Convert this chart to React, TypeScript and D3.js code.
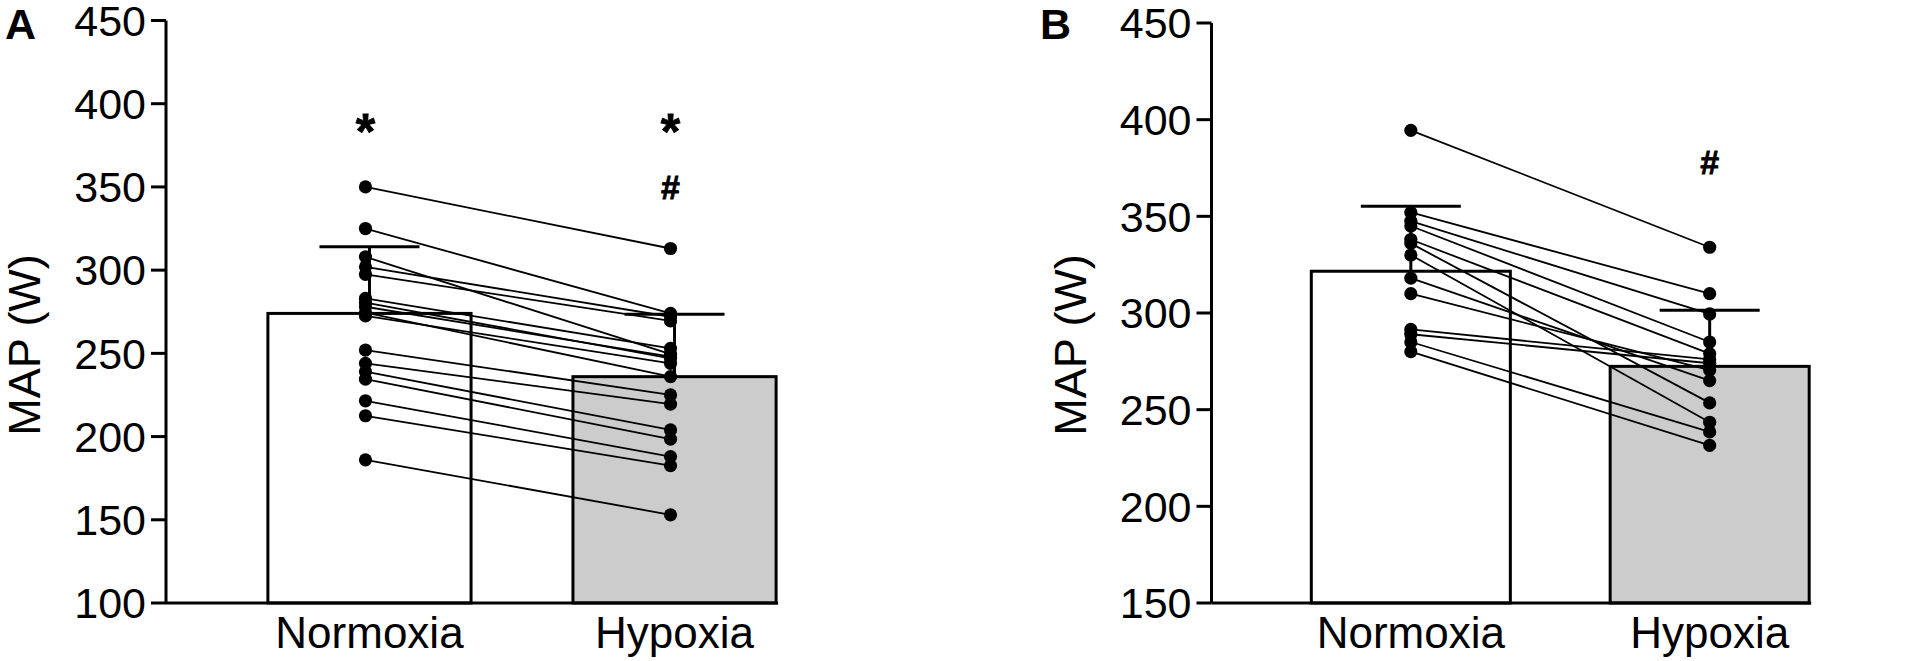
import React from "react";
import * as d3 from "d3";

// ---- data ----
const categories = ["Normoxia", "Hypoxia"];

const ticksA = [100, 150, 200, 250, 300, 350, 400, 450];
const ticksB = [150, 200, 250, 300, 350, 400, 450];

// panel A: paired subjects (normoxia -> hypoxia)
const normoxiaA = [350, 325, 308, 302, 297.5, 283, 280.5, 278, 274.5, 272.5, 252, 244, 239, 234.5, 221.5, 212.5, 186];
const hypoxiaA = [313, 274, 249.5, 272, 269.5, 253, 247, 248, 236, 244, 225, 219.5, 204, 198.5, 188, 182.5, 153];
const meanA = [274, 236];
const sdA = [40, 37.5];

// panel B
const normoxiaB = [394.5, 352, 347.5, 345, 338, 336, 330, 318, 310, 291.5, 289, 285, 280];
const hypoxiaB = [334, 310, 299.5, 285, 279, 253.5, 243.5, 265, 270.5, 276, 274, 238.5, 231.5];
const meanB = [321.6, 272.4];
const sdB = [33.6, 29];

const FONT = "'Liberation Sans', Arial, Helvetica, sans-serif";

interface PanelProps {
  letter: string;
  ticks: number[];
  domain: [number, number];
  yRange: [number, number];
  axisX: number;
  bandEnd: number;
  before: number[];
  after: number[];
  means: number[];
  sds: number[];
  dotShift: number;
  marks: { cat: number; text: string; value: number; size: number }[];
  letterX: number;
}

function Panel(p: PanelProps) {
  const y = d3.scaleLinear().domain(p.domain).range(p.yRange);
  const x = d3
    .scaleBand<string>()
    .domain(categories)
    .range([p.axisX, p.bandEnd])
    .paddingInner(0.334)
    .paddingOuter(0.334);
  const bw = x.bandwidth();
  const cx = (c: string) => (x(c) ?? 0) + bw / 2;
  const dx = (c: string) => cx(c) + p.dotShift;
  const y0 = p.yRange[0];
  const lastRight = (x(categories[1]) ?? 0) + bw;

  const pairs = p.before.map((b, i) => [b, p.after[i]]);
  const line = d3
    .line<[number, number]>()
    .x((d) => d[0])
    .y((d) => d[1]);

  return (
    <g>
      <text x={p.letterX} y={39} fontFamily={FONT} fontWeight="bold" fontSize={43}>
        {p.letter}
      </text>

      {/* y axis */}
      <line x1={p.axisX} x2={p.axisX} y1={y(p.domain[1])} y2={y0} stroke="#000" strokeWidth={3} />
      {p.ticks.map((t) => (
        <g key={t}>
          <line x1={p.axisX - 15} x2={p.axisX} y1={y(t)} y2={y(t)} stroke="#000" strokeWidth={3} />
          <text
            x={p.axisX - 20}
            y={y(t)}
            dy="0.355em"
            textAnchor="end"
            fontFamily={FONT}
            fontSize={43}
          >
            {t}
          </text>
        </g>
      ))}
      <text
        transform={`translate(${p.axisX - 126},345) rotate(-90)`}
        textAnchor="middle"
        fontFamily={FONT}
        fontSize={45}
      >
        MAP (W)
      </text>

      {/* bars */}
      {categories.map((c, i) => (
        <rect
          key={c}
          x={x(c)}
          y={y(p.means[i])}
          width={bw}
          height={y0 - y(p.means[i])}
          fill={i === 0 ? "#ffffff" : "#cccccc"}
          stroke="#000"
          strokeWidth={3}
        />
      ))}

      {/* x axis */}
      <line x1={p.axisX} x2={lastRight + 2} y1={y0} y2={y0} stroke="#000" strokeWidth={3} />

      {/* error bars (upper only) */}
      {categories.map((c, i) => (
        <g key={c}>
          <line
            x1={cx(c)}
            x2={cx(c)}
            y1={y(p.means[i])}
            y2={y(p.means[i] + p.sds[i])}
            stroke="#000"
            strokeWidth={3}
          />
          <line
            x1={cx(c) - 50}
            x2={cx(c) + 50}
            y1={y(p.means[i] + p.sds[i])}
            y2={y(p.means[i] + p.sds[i])}
            stroke="#000"
            strokeWidth={3}
          />
        </g>
      ))}

      {/* paired lines */}
      {pairs.map((pr, i) => (
        <path
          key={i}
          d={
            line([
              [dx(categories[0]), y(pr[0])],
              [dx(categories[1]), y(pr[1])],
            ]) ?? ""
          }
          fill="none"
          stroke="#000"
          strokeWidth={1.8}
        />
      ))}
      {pairs.map((pr, i) => (
        <g key={i}>
          <circle cx={dx(categories[0])} cy={y(pr[0])} r={6.6} fill="#000" />
          <circle cx={dx(categories[1])} cy={y(pr[1])} r={6.6} fill="#000" />
        </g>
      ))}

      {/* significance marks */}
      {p.marks.map((m, i) => (
        <text
          key={i}
          x={dx(categories[m.cat])}
          y={y(m.value)}
          textAnchor="middle"
          fontFamily={FONT}
          fontWeight="bold"
          fontSize={m.size}
          stroke="#000"
          strokeWidth={0.8}
        >
          {m.text}
        </text>
      ))}

      {/* category labels */}
      {categories.map((c) => (
        <text key={c} x={cx(c)} y={648} textAnchor="middle" fontFamily={FONT} fontSize={44}>
          {c}
        </text>
      ))}
    </g>
  );
}

export default function App() {
  return (
    <svg
      width={1914}
      height={661}
      viewBox="0 0 1914 661"
      style={{ position: "absolute", left: 0, top: 0, background: "#fff" }}
    >
      <rect width={1914} height={661} fill="#fff" />
      <Panel
        letter="A"
        letterX={5}
        ticks={ticksA}
        domain={[100, 450]}
        yRange={[603, 20.5]}
        axisX={166}
        bandEnd={878}
        before={normoxiaA}
        after={hypoxiaA}
        means={meanA}
        sds={sdA}
        dotShift={-4}
        marks={[
          { cat: 0, text: "*", value: 373, size: 50 },
          { cat: 1, text: "*", value: 373, size: 50 },
          { cat: 1, text: "#", value: 343, size: 34 },
        ]}
      />
      <Panel
        letter="B"
        letterX={1040}
        ticks={ticksB}
        domain={[150, 450]}
        yRange={[603, 23]}
        axisX={1211.5}
        bandEnd={1909}
        before={normoxiaB}
        after={hypoxiaB}
        means={meanB}
        sds={sdB}
        dotShift={0}
        marks={[{ cat: 1, text: "#", value: 372, size: 34 }]}
      />
    </svg>
  );
}
